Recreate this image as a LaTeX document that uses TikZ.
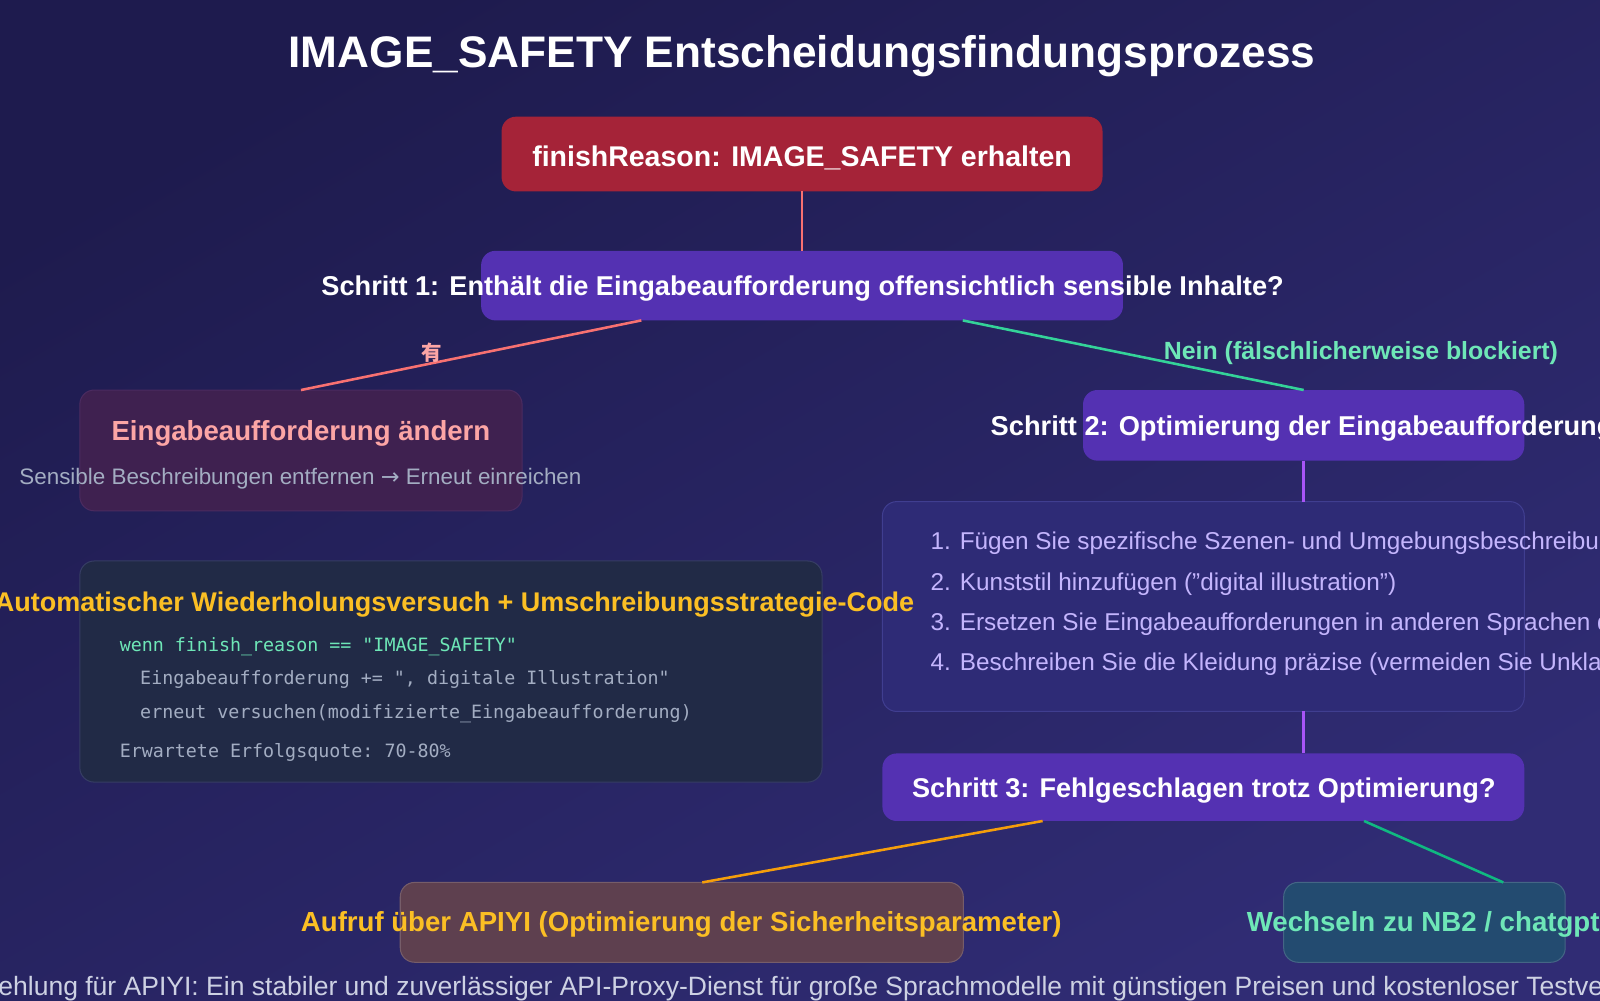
\documentclass[tikz,border=0pt]{standalone}
\usepackage{fontspec}
\setmainfont{Liberation Sans}
\setmonofont{DejaVu Sans Mono}
\newfontfamily\dejavu{DejaVu Sans}
\newfontfamily\cjk{Noto Sans CJK SC}
\usetikzlibrary{calc}
\newcommand\fitw[2]{\resizebox{#1pt}{!}{#2}}
\definecolor{bgA}{HTML}{1E1B4E}
\definecolor{bgB}{HTML}{302C74}
\definecolor{redbox}{HTML}{A52338}
\definecolor{stepbox}{HTML}{5431B2}
\definecolor{salmon}{HTML}{F87171}
\definecolor{mint}{HTML}{34D399}
\definecolor{mintText}{HTML}{6EE7B7}
\definecolor{pinkText}{HTML}{FCA5A5}
\definecolor{modfill}{HTML}{3F2150}
\definecolor{moddraw}{HTML}{4B2B60}
\definecolor{codefill}{HTML}{212A46}
\definecolor{codedraw}{HTML}{363D64}
\definecolor{listfill}{HTML}{2E2B76}
\definecolor{listdraw}{HTML}{403E90}
\definecolor{lavender}{HTML}{C4B5FD}
\definecolor{grayText}{HTML}{A3ADC2}
\definecolor{amber}{HTML}{FBBF24}
\definecolor{orangeLine}{HTML}{F59E0B}
\definecolor{greenLine}{HTML}{10B981}
\definecolor{violetLine}{HTML}{A855F7}
\definecolor{apifill}{HTML}{5E404F}
\definecolor{nbfill}{HTML}{234B70}
\definecolor{footText}{HTML}{CDD1E3}
\tikzset{
  box/.style={rounded corners=14pt, inner sep=0pt, outer sep=0pt},
  txt/.style={inner sep=0pt, outer sep=0pt, text=white},
  boldtxt/.style={txt, font=\fontsize{#1}{#1}\selectfont\bfseries},
  plaintxt/.style={txt, font=\fontsize{#1}{#1}\selectfont},
  listtxt/.style={plaintxt=23.75, text=lavender, anchor=west},
  codetxt/.style={txt, anchor=west, font=\fontsize{17.9}{17.9}\selectfont\ttfamily},
  link/.style={line width=2.5pt}
}
\begin{document}
\begin{tikzpicture}[x=1pt,y=-1pt]
\useasboundingbox (0,0) rectangle (1563,977);
\clip (0,0) rectangle (1563,977);
\shade[overlay, top color=bgA, bottom color=bgB, shading angle=30] (-10,-10) rectangle (1573,987);

% title
\node[boldtxt=40] (title) at (783.5,55) {\fitw{1003}{IMAGE\_SAFETY Entscheidungsfindungsprozess}};

% boxes
\node[box, fill=redbox, minimum width=587pt, minimum height=73pt] (finish) at (783.5,150.5) {};
\node[boldtxt=26] (finishT) at (783.5,154) {\fitw{527}{finishReason: IMAGE\_SAFETY erhalten}};

\node[box, fill=stepbox, minimum width=627pt, minimum height=68pt] (step1) at (783.5,279) {};
\node[boldtxt=26.6] (step1T) at (784,282) {\fitw{940}{Schritt 1: Enthält die Eingabeaufforderung offensichtlich sensible Inhalte?}};

\node[box, fill=modfill, draw=moddraw, line width=1pt, minimum width=432pt, minimum height=118pt] (modify) at (294,440) {};
\node[boldtxt=26, text=pinkText] (modifyT) at (294,423) {\fitw{370}{Eingabeaufforderung ändern}};
\node[plaintxt=22, text=grayText] (modifyS) at (293.5,468) {\fitw{549}{Sensible Beschreibungen entfernen {\dejavu →} Erneut einreichen}};

\node[box, fill=stepbox, minimum width=431pt, minimum height=69pt] (step2) at (1273.5,415.5) {};
\node[boldtxt=26.6] (step2T) at (1272,419) {Schritt 2: Optimierung der Eingabeaufforderung};

\node[box, fill=listfill, draw=listdraw, line width=1pt, minimum width=627pt, minimum height=205pt] (list) at (1175.5,592.5) {};
\node[listtxt] (li1) at (909,531) {1. Fügen Sie spezifische Szenen- und Umgebungsbeschreibungen hinzu};
\node[listtxt] (li2) at (909,571) {2. Kunststil hinzufügen ("digital illustration")};
\node[listtxt] (li3) at (909,610) {3. Ersetzen Sie Eingabeaufforderungen in anderen Sprachen durch Englisch};
\node[listtxt] (li4) at (909,649) {4. Beschreiben Sie die Kleidung präzise (vermeiden Sie Unklarheiten)};

\node[box, fill=codefill, draw=codedraw, line width=1pt, minimum width=725pt, minimum height=216pt] (code) at (440.5,656) {};
\node[boldtxt=26, text=amber] (codeT) at (444,591) {\fitw{898}{Automatischer Wiederholungsversuch + Umschreibungsstrategie-Code}};
\node[codetxt, text=mintText] (c1) at (117,632) {wenn finish\_reason == "IMAGE\_SAFETY"};
\node[codetxt, text=grayText] (c2) at (137,664) {Eingabeaufforderung += ", digitale Illustration"};
\node[codetxt, text=grayText] (c3) at (137,697) {erneut versuchen(modifizierte\_Eingabeaufforderung)};
\node[codetxt, text=grayText] (c4) at (117,735) {Erwartete Erfolgsquote: 70-80\%};

\node[box, fill=stepbox, minimum width=627pt, minimum height=66pt] (step3) at (1175.5,769) {};
\node[boldtxt=26] (step3T) at (1176,772) {\fitw{570}{Schritt 3: Fehlgeschlagen trotz Optimierung?}};

\node[box, fill=apifill, draw=apifill!85!white, line width=1pt, minimum width=550pt, minimum height=78pt] (api) at (666,901) {};
\node[boldtxt=27, text=amber] (apiT) at (665.5,903) {\fitw{743}{Aufruf über APIYI (Optimierung der Sicherheitsparameter)}};

\node[box, fill=nbfill, draw=nbfill!85!white, line width=1pt, minimum width=275pt, minimum height=78pt] (nb) at (1391.5,901) {};
\node[boldtxt=27, text=mintText, anchor=west] (nbT) at (1218,903) {Wechseln zu NB2 / chatgpt};

% footer
\node[plaintxt=25.9, text=footText, anchor=west] (foot) at (-62,966) {Empfehlung für APIYI: Ein stabiler und zuverlässiger API-Proxy-Dienst für große Sprachmodelle mit günstigen Preisen und kostenloser Testversion};

% connectors
\draw[link, salmon] (finish.south) -- (step1.north);
\draw[link, salmon] ($(step1.south)+(-157,0)$) -- (modify.north);
\draw[link, mint] ($(step1.south)+(157,0)$) -- (step2.north);
\draw[link, violetLine] (step2.south) -- (step2.south |- list.north);
\draw[link, violetLine] (step2.south |- list.south) -- (step2.south |- step3.north);
\draw[link, orangeLine] ($(step3.south)+(-157,0)$) -- ($(api.north)+(20,0)$);
\draw[link, greenLine] ($(step3.south)+(157,0)$) -- ($(nb.north)+(77,0)$);

% labels
\node[txt, text=pinkText, font=\fontsize{20}{20}\selectfont\cjk\bfseries] (yes) at (422,345) {有};
\node[boldtxt=22, text=mintText] (no) at (1329.5,345) {\fitw{385}{Nein (fälschlicherweise blockiert)}};
\end{tikzpicture}
\end{document}
